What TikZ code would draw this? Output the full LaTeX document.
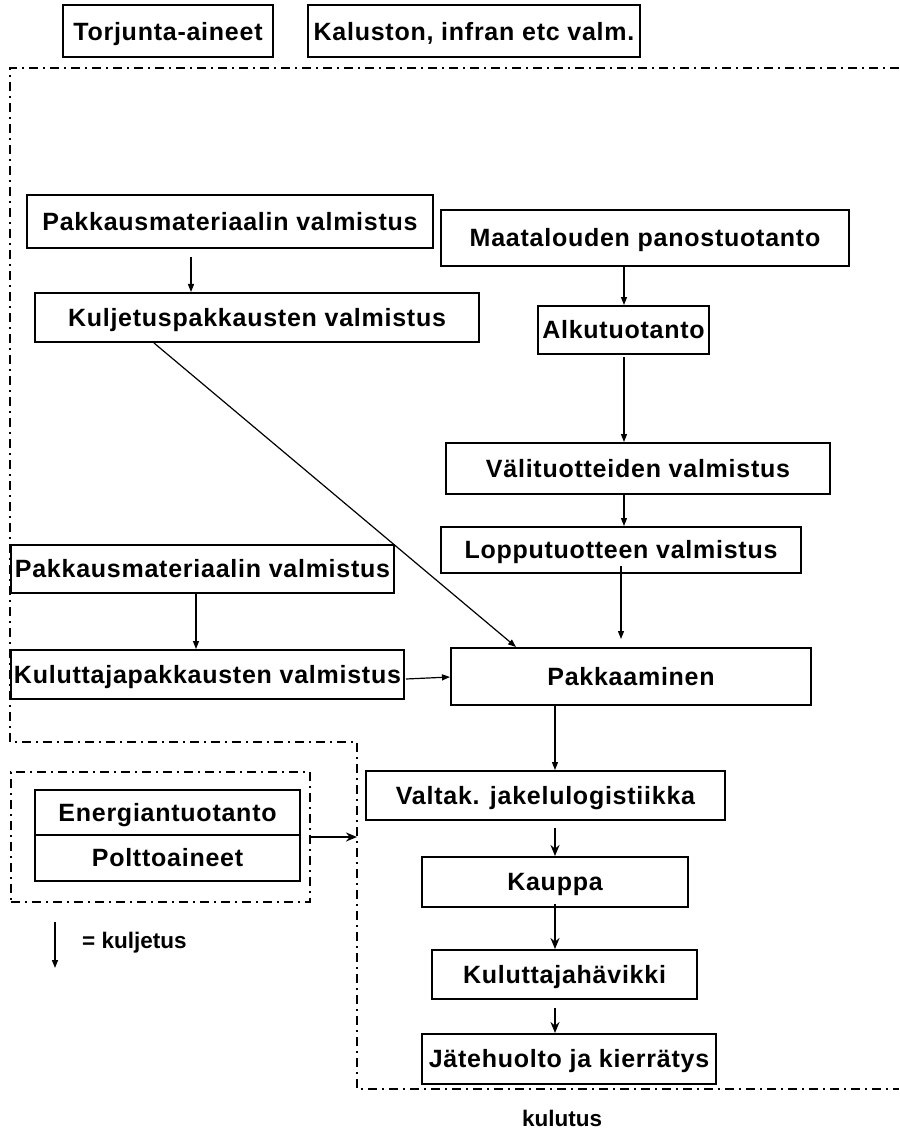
\documentclass[tikz,border=0pt]{standalone}
\usepackage{fontspec}
\newfontfamily\af[LetterSpace=3]{Liberation Sans}
\newfontfamily\lf{Liberation Sans}
\usetikzlibrary{arrows.meta}
\begin{document}
\begin{tikzpicture}[x=1pt,y=-1pt,
  box/.style={draw, line width=2pt, inner sep=0pt, text height=17.9pt, text depth=0pt, font=\af\bfseries\fontsize{25}{29}\selectfont},
  lbl/.style={inner sep=0pt, font=\lf\bfseries\fontsize{22.5}{26}\selectfont},
  arr/.style={line width=1.2pt, -{Triangle[length=8pt,width=6pt]}},
  tarr/.style={line width=2pt, -{Stealth[length=11pt,width=9pt]}},
  frame/.style={line width=2pt, dash pattern=on 9pt off 5pt on 2pt off 5pt}]
\useasboundingbox (0,0) rectangle (899,1131);
% top boxes
\node[box, minimum width=210, minimum height=52] (tor) at (168,31.5) {Torjunta-aineet};
\node[box, minimum width=332, minimum height=52] (kal) at (474,31.5) {Kaluston, infran etc valm.};
% main frame
\draw[frame] (899,68) -- (10,68) -- (10,742) -- (357,742) -- (357,1089) -- (899,1089);
\coordinate (mf) at (357,837);
% boxes
\node[box, minimum width=406, minimum height=53] (pm1) at (230,221.5) {Pakkausmateriaalin valmistus};
\node[box, minimum width=408, minimum height=56] (maa) at (645,238) {Maatalouden panostuotanto};
\node[box, minimum width=444, minimum height=49] (kul) at (257,317.5) {Kuljetuspakkausten valmistus};
\node[box, minimum width=171, minimum height=48] (alk) at (623.5,330) {Alkutuotanto};
\node[box, minimum width=384, minimum height=51] (val) at (638,468.5) {Välituotteiden valmistus};
\node[box, minimum width=360, minimum height=46] (lop) at (621,550) {Lopputuotteen valmistus};
\node[box, minimum width=383, minimum height=48] (pm2) at (202.5,569) {Pakkausmateriaalin valmistus};
\node[box, minimum width=393, minimum height=49] (kpv) at (207.5,674.5) {Kuluttajapakkausten valmistus};
\node[box, minimum width=360, minimum height=57] (pak) at (631,676.5) {Pakkaaminen};
\node[box, minimum width=265, minimum height=45] (ene) at (167.5,812.5) {Energiantuotanto};
\node[box, minimum width=265, minimum height=46] (pol) at (167.5,858) {Polttoaineet};
\node[frame, draw, minimum width=299, minimum height=130, inner sep=0pt] (ef) at (160.5,837) {};
\node[box, minimum width=359, minimum height=49] (vtk) at (545.5,795.5) {Valtak. jakelulogistiikka};
\node[box, minimum width=266, minimum height=50] (kau) at (555,882) {Kauppa};
\node[box, minimum width=265, minimum height=49] (kuh) at (564.5,974.5) {Kuluttajahävikki};
\node[box, minimum width=294, minimum height=50] (jat) at (569,1059) {Jätehuolto ja kierrätys};
\node[lbl] (kulutus) at (562,1118) {kulutus};
% legend
\coordinate (lg1) at (55,922);
\coordinate (lg2) at (55,968);
\draw[arr, line width=1.5pt] (lg1) -- (lg2);
\node[lbl, anchor=west] (lgt) at (82,943) {= kuljetus};
% connectors
\draw[arr] ([xshift=-39pt,yshift=-8pt]pm1.south) -- ([xshift=-66pt]kul.north);
\draw[arr] ([xshift=-21pt]maa.south) -- ([xshift=0.5pt]alk.north);
\draw[arr] ([xshift=0.5pt,yshift=-2pt]alk.south) -- ([xshift=-14pt]val.north);
\draw[arr] ([xshift=-14pt]val.south) -- ([xshift=3pt]lop.north);
\draw[arr] ([yshift=8pt]lop.south) -- ([xshift=-10pt,yshift=8pt]pak.north);
\draw[arr] ([xshift=-103pt]kul.south) -- ([xshift=66pt]pak.north west);
\draw[arr] ([xshift=-6.5pt]pm2.south) -- ([xshift=-11.5pt]kpv.north);
\draw[arr] ([xshift=1pt,yshift=-4.5pt]kpv.east) -- ([yshift=-0.5pt]pak.west);
\draw[arr] ([xshift=-76pt]pak.south) -- ([xshift=9.5pt]vtk.north);
\draw[tarr] ([xshift=9.5pt,yshift=-7pt]vtk.south) -- (kau.north);
\draw[tarr] ([yshift=4pt]kau.south) -- ([xshift=-9.5pt]kuh.north);
\draw[tarr] ([xshift=-9.5pt,yshift=-8pt]kuh.south) -- ([xshift=-14pt]jat.north);
\draw[tarr] (ef.east) -- (mf);
\end{tikzpicture}
\end{document}
